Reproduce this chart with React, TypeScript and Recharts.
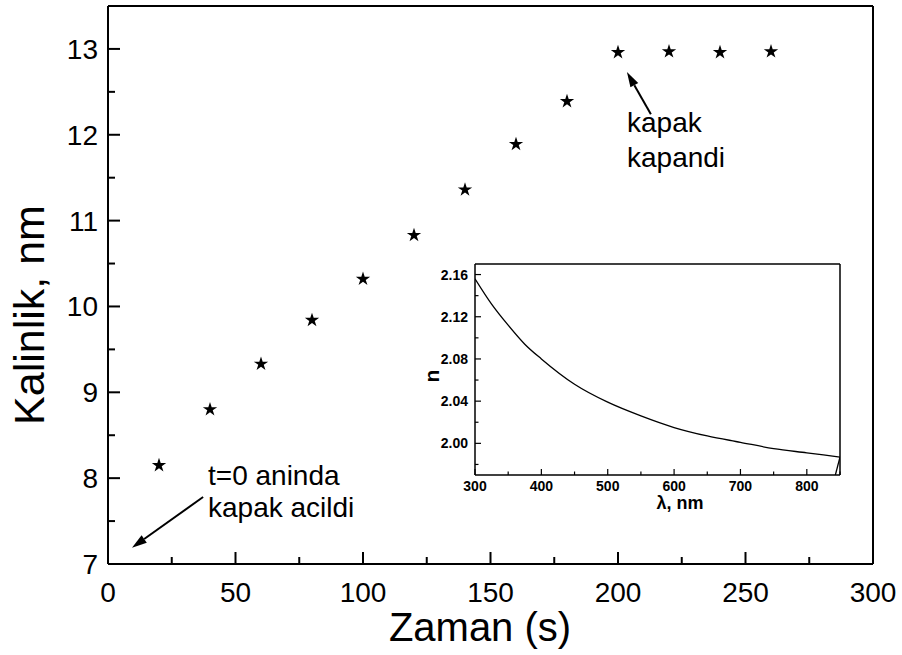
import React from "react";
import {
  ScatterChart,
  Scatter,
  LineChart,
  Line,
  XAxis,
  YAxis,
  ReferenceLine,
  Customized,
} from "recharts";

// main series: film thickness vs time
const times = [20, 40, 60, 80, 100, 120, 140, 160, 180, 200, 220, 240, 260];
const thickness = [8.15, 8.8, 9.33, 9.84, 10.32, 10.83, 11.36, 11.89, 12.39, 12.96, 12.97, 12.96, 12.97];

const xTicks = [0, 25, 50, 75, 100, 125, 150, 175, 200, 225, 250, 275, 300];
const yTicks = [7, 7.5, 8, 8.5, 9, 9.5, 10, 10.5, 11, 11.5, 12, 12.5, 13];

// inset: refractive index vs wavelength
const wavelength = [300, 325, 350, 375, 400, 450, 500, 550, 600, 650, 700, 750, 800, 850];
const refIndex = [2.156, 2.132, 2.112, 2.094, 2.08, 2.056, 2.039, 2.026, 2.015, 2.007, 2.001, 1.995, 1.991, 1.987];
// short stray segment at the right edge of the inset
const tailWavelength = [850, 843];
const tailIndex = [1.987, 1.97];

const insetXTicks = [300, 350, 400, 450, 500, 550, 600, 650, 700, 750, 800, 850];
const insetYTicks = [1.98, 2.0, 2.02, 2.04, 2.06, 2.08, 2.1, 2.12, 2.14, 2.16];

const FONT = "'Liberation Sans', Arial, sans-serif";

const mainData = times.map((t, i) => ({ t, d: thickness[i] }));
const insetData = wavelength.map((w, i) => ({ w, n: refIndex[i] }));
const tailData = tailWavelength.map((w, i) => ({ w, n: tailIndex[i] }));

const makeXTick = (side: "bottom" | "top", isMajor: (v: number) => boolean, big: number, small: number, sw: number, label?: (v: number) => React.ReactNode) =>
  (props: any) => {
    const { x, y, payload } = props;
    const v = payload.value;
    const major = isMajor(v);
    const dir = side === "bottom" ? -1 : 1;
    return (
      <g>
        <line x1={x} x2={x} y1={y} y2={y + dir * (major ? big : small)} stroke="#000" strokeWidth={sw} />
        {side === "bottom" && major && label ? <g transform={`translate(${x},${y})`}>{label(v)}</g> : null}
      </g>
    );
  };

const makeYTick = (side: "left" | "right", isMajor: (v: number) => boolean, big: number, small: number, sw: number, label?: (v: number) => React.ReactNode) =>
  (props: any) => {
    const { x, y, payload } = props;
    const v = payload.value;
    const major = isMajor(v);
    const dir = side === "left" ? 1 : -1;
    return (
      <g>
        <line x1={x} x2={x + dir * (major ? big : small)} y1={y} y2={y} stroke="#000" strokeWidth={sw} />
        {side === "left" && major && label ? <g transform={`translate(${x},${y})`}>{label(v)}</g> : null}
      </g>
    );
  };

const mainXMajor = (v: number) => v % 50 === 0;
const mainYMajor = (v: number) => Number.isInteger(v);
const insetXMajor = (v: number) => v % 100 === 0;
const insetYMajor = (v: number) => Math.round(v * 100) % 4 === 0;

const Arrow = (props: any) => {
  const { x1, y1, x2, y2 } = props;
  const ang = Math.atan2(y2 - y1, x2 - x1);
  const L = 15;
  const W = 4.5;
  const bx = x2 - L * Math.cos(ang);
  const by = y2 - L * Math.sin(ang);
  const px = -Math.sin(ang) * W;
  const py = Math.cos(ang) * W;
  return (
    <g>
      <line x1={x1} y1={y1} x2={bx} y2={by} stroke="#000" strokeWidth={2} />
      <polygon points={`${x2},${y2} ${bx + px},${by + py} ${bx - px},${by - py}`} fill="#000" />
    </g>
  );
};

const MainTexts = () => (
  <g fontFamily={FONT} fill="#000">
    <text x={480} y={641} fontSize={40} textAnchor="middle">Zaman (s)</text>
    <text x={44} y={315} fontSize={43} textAnchor="middle" transform="rotate(-90 44 315)">Kalinlik, nm</text>
    <text x={208} y={485} fontSize={28}>t=0 aninda</text>
    <text x={208} y={517} fontSize={28}>kapak acildi</text>
    <text x={627} y={132} fontSize={28}>kapak</text>
    <text x={627} y={167} fontSize={28}>kapandi</text>
  </g>
);

const InsetTexts = () => (
  <g fontFamily={FONT} fill="#000" fontWeight="bold">
    <text x={260} y={259} fontSize={18} textAnchor="middle">λ, nm</text>
    <text x={19} y={126} fontSize={21} textAnchor="middle" transform="rotate(-90 19 126)">n</text>
  </g>
);

export default function App() {
  const axisLine = { stroke: "#000", strokeWidth: 2 };
  const insetAxisLine = { stroke: "#000", strokeWidth: 1.5 };
  return (
    <div style={{ position: "absolute", left: 0, top: 0, width: 902, height: 655, background: "#fff" }}>
      <ScatterChart width={902} height={655} margin={{ top: 5, right: 28, bottom: 0, left: 0 }}>
        <XAxis
          type="number"
          dataKey="t"
          domain={[0, 300]}
          ticks={xTicks}
          interval={0}
          height={91}
          axisLine={axisLine}
          tickLine={false}
          tickSize={0}
          tickMargin={0}
          tick={makeXTick("bottom", mainXMajor, 12, 7, 2, (v) => (
            <text y={38} textAnchor="middle" fontSize={28} fontFamily={FONT} fill="#000">{v}</text>
          ))}
        />
        <XAxis
          xAxisId="top"
          orientation="top"
          type="number"
          domain={[0, 300]}
          ticks={xTicks}
          interval={0}
          height={1}
          axisLine={axisLine}
          tickLine={false}
          tickSize={0}
          tickMargin={0}
          tick={makeXTick("top", mainXMajor, 12, 7, 2)}
        />
        <YAxis
          type="number"
          dataKey="d"
          domain={[7, 13.5]}
          ticks={yTicks}
          interval={0}
          width={108}
          axisLine={axisLine}
          tickLine={false}
          tickSize={0}
          tickMargin={0}
          tick={makeYTick("left", mainYMajor, 12, 7, 2, (v) => (
            <text x={-10} dy={10} textAnchor="end" fontSize={28} fontFamily={FONT} fill="#000">{v}</text>
          ))}
        />
        <YAxis
          yAxisId="right"
          orientation="right"
          type="number"
          domain={[7, 13.5]}
          ticks={yTicks}
          interval={0}
          width={1}
          axisLine={axisLine}
          tickLine={false}
          tickSize={0}
          tickMargin={0}
          tick={makeYTick("right", mainYMajor, 12, 7, 2)}
        />
        <Scatter data={mainData} shape="star" fill="#000" isAnimationActive={false} />
        <ReferenceLine segment={[{ x: 37.3, y: 7.78 }, { x: 9.4, y: 7.19 }]} shape={Arrow} />
        <ReferenceLine segment={[{ x: 212.9, y: 12.24 }, { x: 203.5, y: 12.73 }]} shape={Arrow} />
        <Customized component={<MainTexts />} />
      </ScatterChart>

      <div style={{ position: "absolute", left: 420, top: 250, width: 440, height: 270 }}>
        <LineChart width={440} height={270} data={insetData} margin={{ top: 13, right: 19, bottom: 0, left: 0 }}>
          <XAxis
            type="number"
            dataKey="w"
            domain={[300, 850]}
            allowDataOverflow
            ticks={insetXTicks}
            interval={0}
            height={45}
            axisLine={insetAxisLine}
            tickLine={false}
            tickSize={0}
            tickMargin={0}
            tick={makeXTick("bottom", insetXMajor, 6, 3.5, 1.2, (v) => (
              <text y={16} textAnchor="middle" fontSize={14} fontWeight="bold" fontFamily={FONT} fill="#000">{v}</text>
            ))}
          />
          <XAxis
            xAxisId="top"
            orientation="top"
            type="number"
            domain={[300, 850]}
            ticks={insetXTicks}
            interval={0}
            height={1}
            axisLine={insetAxisLine}
            tickLine={false}
            tickSize={0}
            tickMargin={0}
            tick={makeXTick("top", insetXMajor, 6, 3.5, 1.2)}
          />
          <YAxis
            type="number"
            domain={[1.97, 2.17]}
            allowDataOverflow
            ticks={insetYTicks}
            interval={0}
            width={55}
            axisLine={insetAxisLine}
            tickLine={false}
            tickSize={0}
            tickMargin={0}
            tick={makeYTick("left", insetYMajor, 6, 3.5, 1.2, (v) => (
              <text x={-7} dy={5} textAnchor="end" fontSize={14} fontWeight="bold" fontFamily={FONT} fill="#000">{v.toFixed(2)}</text>
            ))}
          />
          <YAxis
            yAxisId="right"
            orientation="right"
            type="number"
            domain={[1.97, 2.17]}
            ticks={insetYTicks}
            interval={0}
            width={1}
            axisLine={insetAxisLine}
            tickLine={false}
            tickSize={0}
            tickMargin={0}
            tick={makeYTick("right", insetYMajor, 6, 3.5, 1.2)}
          />
          <Line dataKey="n" type="monotone" stroke="#000" strokeWidth={1.3} dot={false} isAnimationActive={false} />
          <Line data={tailData} dataKey="n" type="linear" stroke="#000" strokeWidth={1.3} dot={false} isAnimationActive={false} />
          <Customized component={<InsetTexts />} />
        </LineChart>
      </div>
    </div>
  );
}
